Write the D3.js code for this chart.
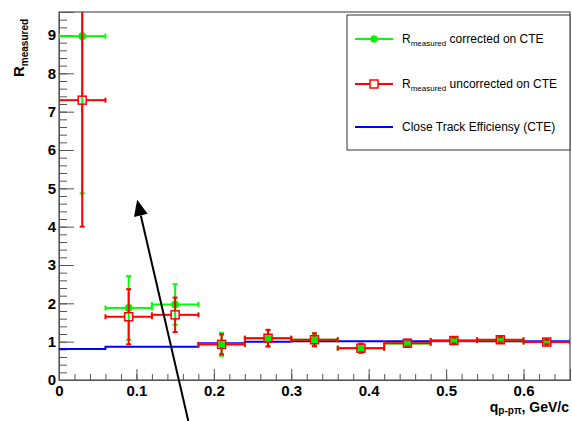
<!DOCTYPE html>
<html>
<head>
<meta charset="utf-8">
<script src="https://cdn.jsdelivr.net/npm/d3@7"></script>
<style>
body { margin: 0; background: #fff; }
text { font-family: "Liberation Sans", Arial, sans-serif; }
</style>
</head>
<body>
<div id="canvas"></div>
<script>
// bins in q (GeV/c)
const qCenters = [0.03, 0.09, 0.15, 0.21, 0.27, 0.33, 0.39, 0.45, 0.51, 0.57, 0.63];
const qHalfWidth = [0.03, 0.03, 0.03, 0.03, 0.03, 0.03, 0.03, 0.03, 0.03, 0.03, 0.03];

// R measured, corrected on CTE (green)
const rCorrected    = [8.97, 1.88, 1.97, 0.93, 1.09, 1.05, 0.83, 0.95, 1.03, 1.04, 0.99];
const rCorrectedErr = [4.10, 0.83, 0.53, 0.30, 0.20, 0.15, 0.10, 0.08, 0.07, 0.07, 0.06];

// R measured, uncorrected on CTE (red)
const rUncorrected    = [7.30, 1.65, 1.70, 0.93, 1.09, 1.05, 0.83, 0.96, 1.03, 1.05, 0.99];
const rUncorrectedErr = [3.30, 0.72, 0.45, 0.26, 0.22, 0.17, 0.12, 0.09, 0.08, 0.07, 0.06];

// close track efficiency, step histogram
const cteEdges  = [0, 0.06, 0.12, 0.18, 0.24, 0.30, 0.36, 0.42, 0.48, 0.54, 0.60, 0.66];
const cteValues = [0.81, 0.87, 0.87, 0.96, 1.00, 1.01, 1.01, 1.01, 1.01, 1.01, 1.01];

const xTicks = [0, 0.1, 0.2, 0.3, 0.4, 0.5, 0.6];
const xTickLabels = ["0", "0.1", "0.2", "0.3", "0.4", "0.5", "0.6"];
const yTicks = [0, 1, 2, 3, 4, 5, 6, 7, 8, 9];

const legendLabels = ["corrected on CTE", "uncorrected on CTE", "Close Track Efficiensy (CTE)"];

// annotation arrow, data coordinates: tail -> head
const arrowTail = [0.167, -1.07];
const arrowHead = [0.101, 4.70];

const W = 572, H = 421;
const padL = 59, padR = 570, padT = 12, padB = 380;

let svg = d3.select("#canvas").append("svg")
    .attr("width", W).attr("height", H)

let x = d3.scaleLinear().domain([0, 0.66]).range([padL, padR])
let y = d3.scaleLinear().domain([0, 9.6]).range([padB, padT])

svg.append("defs").append("clipPath").attr("id", "plotclip")
    .append("rect").attr("x", padL).attr("y", padT)
    .attr("width", padR - padL).attr("height", padB - padT)

// frame
svg.append("rect")
    .attr("x", padL).attr("y", padT)
    .attr("width", padR - padL).attr("height", padB - padT)
    .attr("fill", "none").attr("stroke", "#333").attr("stroke-width", 1)

// axes, ticks pointing inward
let xMinor = d3.range(0, 0.661, 0.02)
let yMinor = d3.range(0, 9.61, 0.2)

svg.append("g").attr("transform", `translate(0,${padB})`)
    .call(d3.axisBottom(x).tickValues(xMinor).tickSize(-6).tickFormat(""))
svg.append("g").attr("transform", `translate(0,${padB})`)
    .call(d3.axisBottom(x).tickValues(xTicks).tickSize(-11).tickPadding(5)
        .tickFormat((d, i) => xTickLabels[i]))

svg.append("g").attr("transform", `translate(${padL},0)`)
    .call(d3.axisLeft(y).tickValues(yMinor).tickSize(-8).tickFormat(""))
svg.append("g").attr("transform", `translate(${padL},0)`)
    .call(d3.axisLeft(y).tickValues(yTicks).tickSize(-15).tickPadding(3))

svg.selectAll(".domain").attr("stroke", "#555")
svg.selectAll(".tick line").attr("stroke", "#555")
svg.selectAll(".tick text")
    .attr("font-size", 15).attr("font-weight", "bold").attr("fill", "#000")
    .style("font-family", '"Liberation Sans", Arial, sans-serif')

let plot = svg.append("g").attr("clip-path", "url(#plotclip)")

// blue step line
let stepPts = []
cteValues.forEach((v, i) => {
    stepPts.push([cteEdges[i], v])
    stepPts.push([cteEdges[i + 1], v])
})
plot.append("path")
    .attr("d", d3.line().x(d => x(d[0])).y(d => y(d[1]))(stepPts))
    .attr("fill", "none").attr("stroke", "#0000ff").attr("stroke-width", 2)

function errorBars(g, vals, errs, color, gap) {
    vals.forEach((v, i) => {
        let cx = x(qCenters[i]), cy = y(v)
        let x0 = x(qCenters[i] - qHalfWidth[i]), x1 = x(qCenters[i] + qHalfWidth[i])
        let y0 = y(v - errs[i]), y1 = y(v + errs[i])
        let segs = [
            [x0, cy, cx - gap, cy], [cx + gap, cy, x1, cy],
            [cx, y1, cx, cy - gap], [cx, cy + gap, cx, y0],
            [x0, cy - 2.5, x0, cy + 2.5], [x1, cy - 2.5, x1, cy + 2.5],
            [cx - 2.5, y0, cx + 2.5, y0], [cx - 2.5, y1, cx + 2.5, y1]
        ]
        g.selectAll(null).data(segs).enter().append("line")
            .attr("x1", s => s[0]).attr("y1", s => s[1])
            .attr("x2", s => s[2]).attr("y2", s => s[3])
            .attr("stroke", color).attr("stroke-width", 2)
    })
}

// green, corrected
let gGreen = plot.append("g")
errorBars(gGreen, rCorrected, rCorrectedErr, "#00ff00", 0)
gGreen.selectAll("circle").data(rCorrected).enter().append("circle")
    .attr("cx", (d, i) => x(qCenters[i])).attr("cy", d => y(d))
    .attr("r", 3.6).attr("fill", "#00ee00").attr("stroke", "#00ff00")

// red, uncorrected
let gRed = plot.append("g")
errorBars(gRed, rUncorrected, rUncorrectedErr, "#ff0000", 4)
gRed.selectAll("rect").data(rUncorrected).enter().append("rect")
    .attr("x", (d, i) => x(qCenters[i]) - 4).attr("y", d => y(d) - 4)
    .attr("width", 8).attr("height", 8)
    .attr("fill", "none").attr("stroke", "#ff0000").attr("stroke-width", 1.5)

// axis titles
let yt = svg.append("text")
    .attr("transform", "translate(24,77) rotate(-90)")
    .attr("font-weight", "bold").attr("font-size", 15)
yt.append("tspan").text("R")
yt.append("tspan").attr("font-size", 10).attr("dy", 4).text("measured")

let xt = svg.append("text")
    .attr("x", 569).attr("y", 412).attr("text-anchor", "end")
    .attr("font-weight", "bold").attr("font-size", 14)
xt.append("tspan").text("q")
xt.append("tspan").attr("font-size", 10).attr("dy", 2).text("p-pπ")
xt.append("tspan").attr("dy", -2).text(", GeV/c")

// legend
let lg = svg.append("g")
lg.append("rect").attr("x", 347).attr("y", 15).attr("width", 223).attr("height", 135)
    .attr("fill", "#fff").attr("stroke", "#333").attr("stroke-width", 1)
const legendRows = [39, 84, 127]
const legendColors = ["#00ff00", "#ff0000", "#0000ff"]
legendRows.forEach((ry, i) => {
    lg.append("line").attr("x1", 355).attr("x2", 393).attr("y1", ry).attr("y2", ry)
        .attr("stroke", legendColors[i]).attr("stroke-width", 2)
    let t = lg.append("text").attr("x", 402).attr("y", ry + 4).attr("font-size", 12)
    if (i < 2) {
        t.append("tspan").text("R")
        t.append("tspan").attr("font-size", 8).attr("dy", 3).text("measured")
        t.append("tspan").attr("dy", -3).text(" " + legendLabels[i])
    } else {
        t.text(legendLabels[i])
    }
})
lg.append("circle").attr("cx", 374).attr("cy", legendRows[0]).attr("r", 3.3)
    .attr("fill", "#00ee00").attr("stroke", "#00ff00")
lg.append("rect").attr("x", 370).attr("y", legendRows[1] - 4).attr("width", 8).attr("height", 8)
    .attr("fill", "#fff").attr("stroke", "#ff0000").attr("stroke-width", 1.5)

// annotation arrow
let ax0 = x(arrowTail[0]), ay0 = y(arrowTail[1])
let ax1 = x(arrowHead[0]), ay1 = y(arrowHead[1])
let ang = Math.atan2(ay1 - ay0, ax1 - ax0)
let headLen = 16, headHalf = 7
let bx = ax1 - headLen * Math.cos(ang), by = ay1 - headLen * Math.sin(ang)
svg.append("line").attr("x1", ax0).attr("y1", ay0).attr("x2", bx).attr("y2", by)
    .attr("stroke", "#000").attr("stroke-width", 2)
svg.append("path")
    .attr("d", d3.line()([
        [ax1, ay1],
        [bx + headHalf * Math.sin(ang), by - headHalf * Math.cos(ang)],
        [bx - headHalf * Math.sin(ang), by + headHalf * Math.cos(ang)]
    ]) + "Z")
    .attr("fill", "#000")
</script>
</body>
</html>
